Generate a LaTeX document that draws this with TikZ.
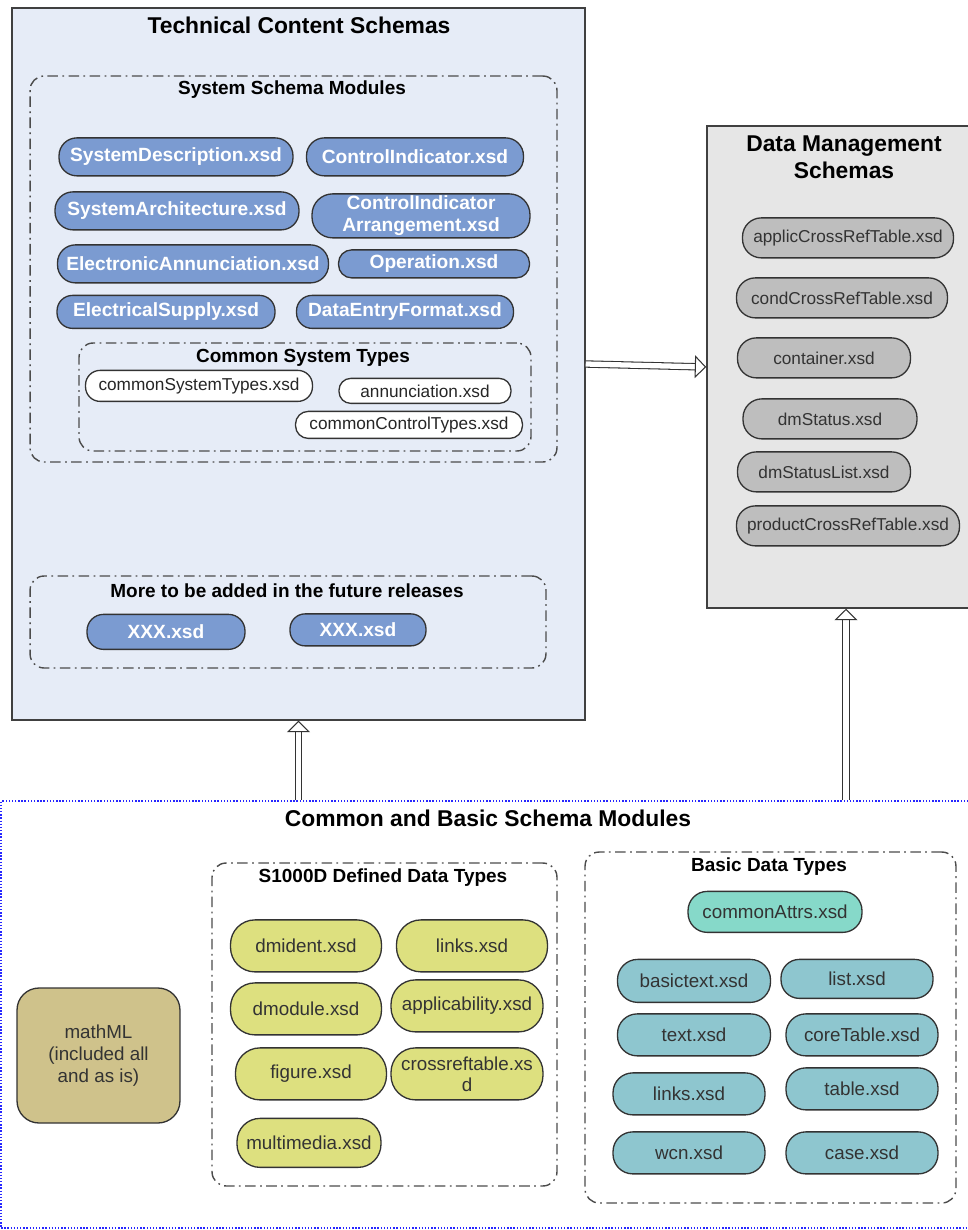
\documentclass[tikz,border=0pt]{standalone}
\usepackage{fontspec}
\setmainfont{Liberation Sans}
\usepackage{xcolor}
\usetikzlibrary{arrows.meta, positioning, calc}

\definecolor{techfill}{HTML}{E6ECF7}
\definecolor{dmfill}{HTML}{E6E6E6}
\definecolor{modblue}{HTML}{7B9BD1}
\definecolor{dmgray}{HTML}{BEBEBE}
\definecolor{datayellow}{HTML}{DDE07F}
\definecolor{basicteal}{HTML}{8EC6CF}
\definecolor{attrteal}{HTML}{86D9C9}
\definecolor{mathkhaki}{HTML}{CFC28B}

\begin{document}
\begin{tikzpicture}[
  x=0.02cm, y=-0.02cm,
  % Outer boxes
  schemabox/.style={draw=black!75, line width=0.9pt},
  groupbox/.style={draw=black!70, line width=0.8pt, rounded corners=8pt,
    dash pattern=on 6pt off 2.5pt on 1pt off 2.5pt},
  maintitle/.style={font=\fontsize{13}{15.5}\selectfont\bfseries, align=center},
  grouptitle/.style={font=\fontsize{10.8}{13}\selectfont\bfseries},
  % Base style for pills
  pill/.style={draw=black!80, line width=0.75pt, inner sep=0pt, align=center,
    minimum height=#1, rounded corners=0.47*#1, yshift=-0.5pt},
  % Styles inheriting from pill
  bluepill/.style={pill=#1, fill=modblue, text=white,
    font=\fontsize{10.9}{12.5}\selectfont\bfseries},
  whitepill/.style={pill=#1, fill=white, text=black!85,
    font=\fontsize{9.8}{11}\selectfont},
  graypill/.style={pill=#1, fill=dmgray, text=black!80,
    font=\fontsize{9.8}{11}\selectfont},
  yellowpill/.style={pill=#1, fill=datayellow, text=black!80,
    font=\fontsize{10.7}{12}\selectfont},
  tealpill/.style={pill=#1, fill=basicteal, text=black!80,
    font=\fontsize{10.7}{12}\selectfont},
  % Hollow arrows
  hollow/.style={double=white, double distance=3pt, line width=0.6pt, draw=black!80,
    -{Triangle[open, length=6.5pt, width=13pt]}}
]
  \useasboundingbox (0,0) rectangle (967,1230);

  % Technical content schemas
  \node[schemabox, fill=techfill, minimum width=11.46cm, minimum height=14.24cm] (tech) at (298.5,364) {};
  \node[maintitle] (techtitle) at (299,25) {Technical Content Schemas};

  % System schema modules
  \node[groupbox, minimum width=10.54cm, minimum height=7.72cm] (sysmod) at (293.5,269) {};
  \node[grouptitle] (sysmodtitle) at (292,90) {System Schema Modules};
  \node[bluepill=0.76cm, minimum width=4.68cm] (sysdesc) at (176,156) {SystemDescription.xsd};
  \node[bluepill=0.76cm, minimum width=4.34cm] (ctrlind) at (415,156) {ControlIndicator.xsd};
  \node[bluepill=0.76cm, minimum width=4.88cm] (sysarch) at (177,210) {SystemArchitecture.xsd};
  \node[bluepill=0.88cm, minimum width=4.36cm] (ctrlarr) at (421,215) {ControlIndicator\\Arrangement.xsd};
  \node[bluepill=0.76cm, minimum width=5.42cm] (elecann) at (193,263) {ElectronicAnnunciation.xsd};
  \node[bluepill=0.56cm, minimum width=3.82cm] (operation) at (434,263) {Operation.xsd};
  \node[bluepill=0.66cm, minimum width=4.36cm] (elecsup) at (166,311) {ElectricalSupply.xsd};
  \node[bluepill=0.66cm, minimum width=4.34cm] (dataentry) at (405,311) {DataEntryFormat.xsd};

  % Common system types
  \node[groupbox, minimum width=9.04cm, minimum height=2.16cm] (cst) at (305,397) {};
  \node[grouptitle] (csttitle) at (303,358) {Common System Types};
  \node[whitepill=0.62cm, minimum width=4.54cm] (cstypes) at (199,385) {commonSystemTypes.xsd};
  \node[whitepill=0.50cm, minimum width=3.44cm] (annun) at (425,390) {annunciation.xsd};
  \node[whitepill=0.54cm, minimum width=4.54cm] (cctypes) at (409,424) {commonControlTypes.xsd};

  % Future releases
  \node[groupbox, minimum width=10.32cm, minimum height=1.84cm] (more) at (288,622) {};
  \node[grouptitle] (moretitle) at (287,591) {More to be added in the future releases};
  \node[bluepill=0.70cm, minimum width=3.16cm] (xxxa) at (166,631) {XXX.xsd};
  \node[bluepill=0.64cm, minimum width=2.72cm] (xxxb) at (358,629) {XXX.xsd};

  % Data management schemas
  \node[schemabox, fill=dmfill, minimum width=5.56cm, minimum height=9.64cm] (dm) at (846,367) {};
  \node[maintitle] (dmtitle) at (844,157) {Data Management\\Schemas};
  \node[graypill=0.80cm, minimum width=4.22cm] (applic) at (848,237) {applicCrossRefTable.xsd};
  \node[graypill=0.80cm, minimum width=4.22cm] (cond) at (842,297) {condCrossRefTable.xsd};
  \node[graypill=0.80cm, minimum width=3.46cm] (container) at (824,357) {container.xsd};
  \node[graypill=0.80cm, minimum width=3.48cm] (dmstatus) at (830,418) {dmStatus.xsd};
  \node[graypill=0.80cm, minimum width=3.46cm] (dmstatuslist) at (824,471) {dmStatusList.xsd};
  \node[graypill=0.80cm, minimum width=4.46cm] (product) at (848,525) {productCrossRefTable.xsd};

  % Common and basic schema modules
  \node[draw=blue!85, line width=0.8pt, densely dotted, minimum width=19.48cm, minimum height=8.54cm] (common) at (488,1014.5) {};
  \node[maintitle] (commontitle) at (488,818) {Common and Basic Schema Modules};

  % MathML
  \node[draw=black!80, line width=0.75pt, fill=mathkhaki, rounded corners=0.44cm, text=black!80,
    font=\fontsize{10.7}{12.5}\selectfont, align=center,
    minimum width=3.26cm, minimum height=2.7cm] (mathml) at (98.5,1055.5) {mathML\\(included all\\and as is)};

  % S1000D defined data types
  \node[groupbox, minimum width=6.9cm, minimum height=6.46cm] (s1000d) at (384.5,1024.5) {};
  \node[grouptitle] (s1000dtitle) at (383,878) {S1000D Defined Data Types};
  \node[yellowpill=1.04cm, minimum width=3.02cm] (dmident) at (306,945) {dmident.xsd};
  \node[yellowpill=1.04cm, minimum width=3.02cm] (dlinks) at (472,945) {links.xsd};
  \node[yellowpill=1.04cm, minimum width=3.02cm] (dmodule) at (306,1008) {dmodule.xsd};
  \node[yellowpill=1.04cm, minimum width=3.04cm] (applicab) at (467,1005) {applicability.xsd};
  \node[yellowpill=1.04cm, minimum width=3.02cm] (figure) at (311,1073) {figure.xsd};
  \node[yellowpill=1.04cm, minimum width=3.04cm] (crossref) at (467,1073) {crossreftable.xs\\d};
  \node[yellowpill=0.98cm, minimum width=2.88cm] (multimedia) at (309,1142) {multimedia.xsd};

  % Basic data types
  \node[groupbox, minimum width=7.42cm, minimum height=7.02cm] (basic) at (770.5,1027.5) {};
  \node[grouptitle] (basictitle) at (769,867) {Basic Data Types};
  \node[tealpill=0.82cm, fill=attrteal, minimum width=3.48cm] (attrs) at (775,911) {commonAttrs.xsd};
  \node[tealpill=0.86cm, minimum width=3.06cm] (basictext) at (694,980) {basictext.xsd};
  \node[tealpill=0.78cm, minimum width=3.04cm] (list) at (857,978) {list.xsd};
  \node[tealpill=0.84cm, minimum width=3.06cm] (text) at (694,1034) {text.xsd};
  \node[tealpill=0.84cm, minimum width=3.04cm] (coretable) at (862,1034) {coreTable.xsd};
  \node[tealpill=0.84cm, minimum width=3.04cm] (blinks) at (689,1093) {links.xsd};
  \node[tealpill=0.84cm, minimum width=3.04cm] (table) at (862,1088) {table.xsd};
  \node[tealpill=0.84cm, minimum width=3.04cm] (wcn) at (689,1152) {wcn.xsd};
  \node[tealpill=0.84cm, minimum width=3.04cm] (case) at (862,1152) {case.xsd};

  % Arrows between schema groups
  \draw[hollow] (tech.east) -- (dm.west);
  \draw[hollow] (tech.south |- common.north) -- (tech.south);
  \draw[hollow] (dm.south |- common.north) -- (dm.south);

\end{tikzpicture}
\end{document}
